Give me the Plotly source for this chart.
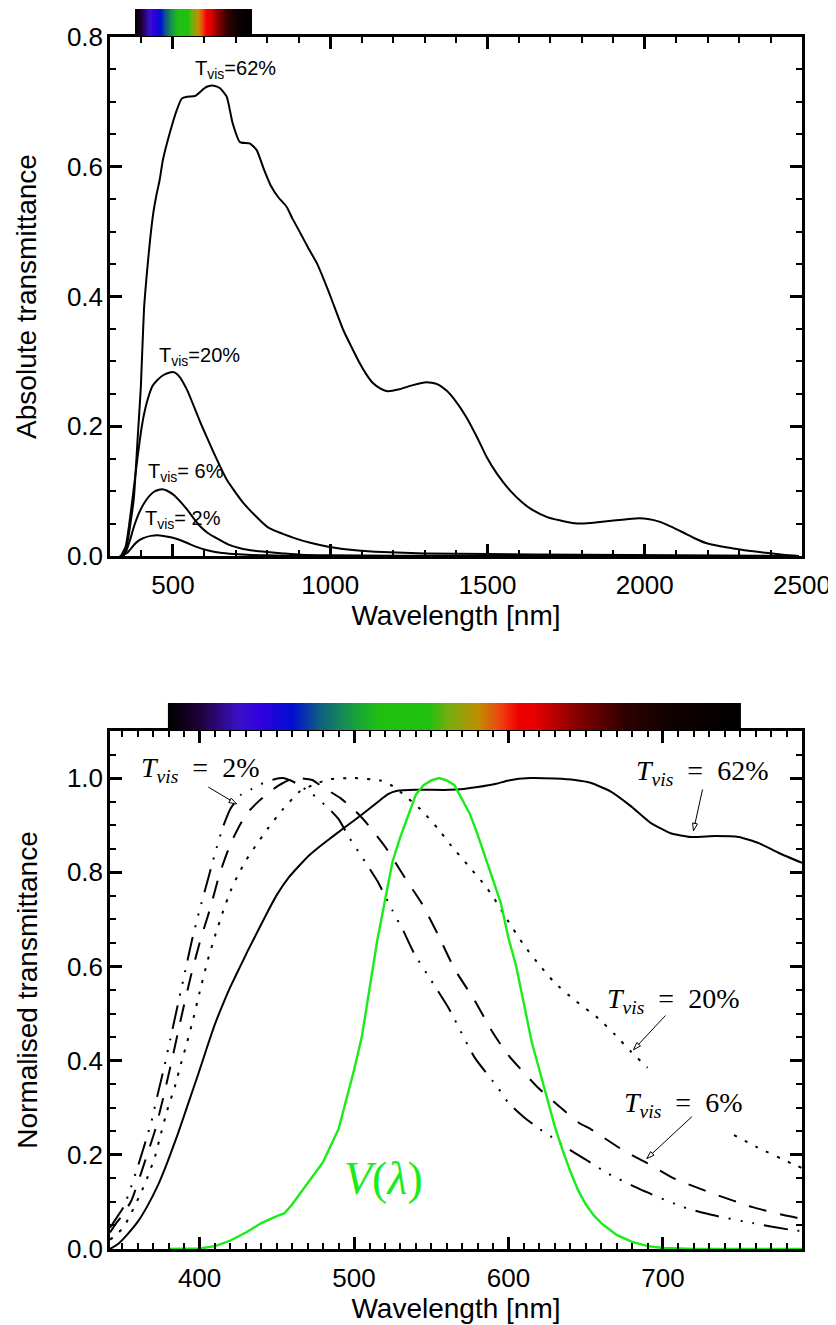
import numpy as np
import plotly.graph_objects as go

# ---------------- top panel: absolute transmittance ----------------
top_wl_62 = [330, 343, 355, 365, 376, 389, 398, 408, 418, 428, 438, 447, 458, 468, 490, 512, 528, 545, 570, 586,
             600, 612, 630, 650, 671, 690, 713, 744, 766, 790, 810, 835, 862, 880, 905, 930, 958, 985, 1005, 1042,
             1070, 1094, 1115, 1135, 1160, 1183, 1220, 1260, 1306, 1340, 1370, 1400, 1433, 1470, 1497, 1530, 1570,
             1610, 1643, 1690, 1729, 1770, 1802, 1850, 1909, 1950, 1983, 2010, 2046, 2080, 2119, 2160, 2195, 2240,
             2278, 2330, 2385, 2440, 2490]
top_T62 = [0.0, 0.0, 0.02, 0.05, 0.09, 0.19, 0.26, 0.38, 0.44, 0.49, 0.53, 0.555, 0.58, 0.61, 0.652, 0.687, 0.705,
           0.708, 0.709, 0.715, 0.721, 0.724, 0.725, 0.721, 0.708, 0.667, 0.638, 0.636, 0.626, 0.595, 0.572, 0.553,
           0.538, 0.52, 0.498, 0.475, 0.451, 0.42, 0.395, 0.348, 0.32, 0.297, 0.28, 0.267, 0.258, 0.254, 0.257,
           0.263, 0.268, 0.265, 0.255, 0.238, 0.214, 0.18, 0.153, 0.127, 0.102, 0.083, 0.071, 0.06, 0.055, 0.051,
           0.05, 0.052, 0.055, 0.057, 0.058, 0.057, 0.053, 0.046, 0.037, 0.027, 0.02, 0.015, 0.012, 0.008, 0.005,
           0.002, 0.0]

top_wl_20 = [335, 350, 360, 368, 376, 387, 398, 408, 419, 435, 450, 470, 490, 505, 520, 545, 588, 630, 672, 725,
             800, 884, 940, 998, 1080, 1167, 1300, 1500, 1800, 2100, 2490]
top_T20 = [0.0, 0.015, 0.045, 0.075, 0.106, 0.15, 0.19, 0.218, 0.24, 0.262, 0.271, 0.279, 0.283, 0.283, 0.277,
           0.256, 0.205, 0.159, 0.117, 0.081, 0.045, 0.028, 0.02, 0.014, 0.009, 0.006, 0.004, 0.003, 0.002, 0.001,
           0.0]

top_wl_6 = [335, 350, 362, 376, 392, 408, 424, 440, 455, 466, 480, 503, 525, 546, 566, 588, 612, 640, 675, 714,
            760, 800, 850, 906, 1000, 1200, 1500, 2490]
top_T6 = [0.0, 0.006, 0.022, 0.045, 0.066, 0.081, 0.092, 0.099, 0.102, 0.103, 0.101, 0.094, 0.083, 0.071, 0.058,
          0.045, 0.035, 0.027, 0.018, 0.012, 0.008, 0.006, 0.004, 0.002, 0.001, 0.0005, 0.0, 0.0]

top_wl_2 = [335, 355, 376, 392, 408, 430, 451, 470, 493, 520, 546, 575, 609, 650, 694, 750, 800, 900, 2490]
top_T2 = [0.0, 0.005, 0.017, 0.024, 0.028, 0.031, 0.032, 0.031, 0.029, 0.025, 0.02, 0.014, 0.009, 0.005, 0.003,
          0.0015, 0.001, 0.0, 0.0]

top_labels = ["T<sub>vis</sub>=62%", "T<sub>vis</sub>=20%", "T<sub>vis</sub>= 6%", "T<sub>vis</sub>= 2%"]
top_label_x = [700, 586, 542, 532]
top_label_y = [0.75, 0.308, 0.128, 0.0555]

# ---------------- bottom panel: normalised transmittance ----------------
b_wl_62 = [342, 347, 353, 360, 366, 373, 379, 386, 392, 399, 405, 410, 416, 420, 426, 431, 440, 445, 450, 458,
           470, 476, 483, 493, 500, 508, 518, 522, 528, 540, 562, 571, 580, 592, 600, 614, 630, 643, 653, 666,
           679, 692, 705, 718, 734, 749, 762, 775, 790]
b_T62 = [0.0, 0.01, 0.03, 0.058, 0.09, 0.135, 0.183, 0.245, 0.303, 0.37, 0.43, 0.478, 0.527, 0.557, 0.598,
         0.632, 0.69, 0.722, 0.752, 0.79, 0.833, 0.85, 0.868, 0.893, 0.91, 0.93, 0.956, 0.966, 0.973, 0.975,
         0.975, 0.977, 0.981, 0.988, 0.995, 1.0, 0.999, 0.996, 0.99, 0.972, 0.941, 0.905, 0.883, 0.875, 0.877,
         0.875, 0.862, 0.841, 0.82]

b_wl_20 = [342, 346, 351, 356, 362, 366, 371, 375, 379, 384, 388, 392, 396, 400, 405, 410, 415, 420, 425, 430,
           436, 444, 454, 465, 476, 485, 500, 517, 525, 531, 543, 554, 563, 574, 585, 590, 600, 610, 620, 630,
           643, 658, 669, 679, 690, 700, 746, 761, 783, 790]
b_T20 = [0.02, 0.03, 0.047, 0.078, 0.119, 0.15, 0.195, 0.245, 0.294, 0.345, 0.394, 0.44, 0.49, 0.545, 0.61,
         0.665, 0.715, 0.76, 0.795, 0.825, 0.855, 0.892, 0.934, 0.972, 0.989, 0.998, 1.0, 0.995, 0.983, 0.968,
         0.934, 0.894, 0.856, 0.814, 0.771, 0.748, 0.695, 0.645, 0.603, 0.565, 0.528, 0.49, 0.455, 0.42, 0.385,
         None, 0.242, 0.216, 0.182, 0.172]

b_wl_6 = [342, 346, 351, 356, 361, 366, 371, 376, 382, 388, 394, 400, 407, 413, 420, 426, 432, 438, 445, 451,
          458, 464, 473, 480, 491, 500, 508, 521, 533, 544, 554, 565, 578, 589, 599, 619, 636, 646, 653, 674,
          690, 707, 733, 758, 778, 790]
b_T6 = [0.035, 0.055, 0.075, 0.104, 0.15, 0.2, 0.25, 0.315, 0.4, 0.49, 0.575, 0.65, 0.725, 0.797, 0.86, 0.9,
        0.93, 0.95, 0.97, 0.984, 0.996, 1.0, 0.996, 0.98, 0.958, 0.933, 0.905, 0.85, 0.788, 0.733, 0.67, 0.595,
        0.528, 0.464, 0.415, 0.343, 0.294, 0.267, 0.255, 0.21, 0.182, 0.15, 0.117, 0.089, 0.072, 0.064]

b_wl_2 = [342, 346, 351, 356, 360, 365, 369, 373, 377, 381, 385, 390, 395, 400, 405, 410, 415, 420, 427, 434,
          441, 448, 454, 462, 473, 484, 490, 497, 506, 515, 525, 532, 539, 550, 561, 578, 593, 600, 610, 620,
          627, 635, 650, 664, 685, 713, 732, 758, 784, 790]
b_T2 = [0.045, 0.065, 0.09, 0.135, 0.175, 0.228, 0.273, 0.33, 0.385, 0.445, 0.505, 0.58, 0.655, 0.72, 0.78,
        0.84, 0.895, 0.935, 0.965, 0.977, 0.989, 0.997, 1.0, 0.99, 0.966, 0.934, 0.913, 0.873, 0.828, 0.782,
        0.718, 0.675, 0.627, 0.57, 0.513, 0.407, 0.343, 0.31, 0.28, 0.255, 0.24, 0.22, 0.19, 0.161, 0.127,
        0.089, 0.072, 0.055, 0.04, 0.038]

# photopic luminosity function V(lambda)
v_wl = [380, 390, 400, 410, 420, 430, 440, 450, 455, 460, 470, 480, 490, 500, 505, 510, 515, 520, 525, 530,
        535, 540, 545, 550, 555, 560, 565, 570, 575, 580, 585, 590, 595, 600, 605, 610, 615, 620, 625, 630,
        635, 640, 645, 650, 655, 660, 670, 680, 690, 700, 710, 720, 790]
v_V = [0, 0, 0.001, 0.006, 0.018, 0.035, 0.055, 0.07, 0.076, 0.095, 0.14, 0.185, 0.255, 0.38, 0.45, 0.55, 0.655,
       0.74, 0.824, 0.875, 0.92, 0.965, 0.985, 0.995, 1.0, 0.995, 0.985, 0.955, 0.924, 0.88, 0.83, 0.785, 0.735,
       0.66, 0.6, 0.52, 0.44, 0.38, 0.32, 0.26, 0.21, 0.165, 0.125, 0.095, 0.072, 0.055, 0.03, 0.015, 0.006,
       0.002, 0.001, 0, 0]

bot_pct = ["2%", "62%", "20%", "6%"]
bot_label_x = [400.0, 725.1, 706.6, 713.1]
bot_label_y = [1.019, 1.011, 0.527, 0.307]
arrow_head_x = [424.0, 719.7, 680.9, 689.5]
arrow_head_y = [0.945, 0.888, 0.423, 0.192]
arrow_tail_x = [404.6, 725.8, 702.5, 719.7]
arrow_tail_y = [0.983, 0.979, 0.499, 0.284]
arrow_angle = [118.7, 192.2, 222.9, 227.1]

# visible-spectrum colour bar
spec_nm = [380, 400, 425, 440, 460, 478, 500, 516, 548, 560, 580, 595, 606, 617, 632, 646, 675, 705, 750]
spec_col = ["#000000", "#200038", "#3a10c8", "#3000e0", "#0010d0", "#106080", "#18a040", "#20c010", "#20c010",
            "#70b010", "#c09000", "#f04010", "#f00000", "#e80000", "#b00000", "#800000", "#300000", "#100000",
            "#000000"]

# ---------------- figure ----------------
# the page body keeps an 8 px margin, so the figure is drawn 8 px in from the window corner
OFF = 8
FW, FH = 836 - OFF, 1325 - OFF
SANS = "Liberation Sans, Arial, Helvetica, sans-serif"
SERIF = "Liberation Serif, Times New Roman, serif"
GREEN = "#19ec19"


def xd(a, b):
    return [(a - OFF) / FW, (b - OFF) / FW]


def yd(top, bottom):
    return [1 - (bottom - OFF) / FH, 1 - (top - OFF) / FH]


fig = go.Figure()

spec_grid = np.arange(spec_nm[0], spec_nm[-1] + 1, 1)
cscale = [[(n - spec_nm[0]) / (spec_nm[-1] - spec_nm[0]), c] for n, c in zip(spec_nm, spec_col)]
for xa, ya in (("x3", "y3"), ("x4", "y4")):
    fig.add_trace(go.Heatmap(x=spec_grid, y=[0], z=[spec_grid], colorscale=cscale, zmin=spec_nm[0],
                             zmax=spec_nm[-1], showscale=False, hoverinfo="skip", xaxis=xa, yaxis=ya,
                             zsmooth="best"))

for wl, T in ((top_wl_62, top_T62), (top_wl_20, top_T20), (top_wl_6, top_T6), (top_wl_2, top_T2)):
    fig.add_trace(go.Scatter(x=wl, y=T, mode="lines", line=dict(color="black", width=2, shape="spline",
                                                                 smoothing=0.5),
                             xaxis="x", yaxis="y", showlegend=False, hoverinfo="skip"))

bottom_series = [
    (b_wl_62, b_T62, "solid"),
    (b_wl_20, b_T20, "3px,9px"),
    (b_wl_6, b_T6, "18px,14px"),
    (b_wl_2, b_T2, "24px,10px,2px,10px,2px,10px,2px,10px"),
]
for wl, T, dash in bottom_series:
    fig.add_trace(go.Scatter(x=wl, y=T, mode="lines",
                             line=dict(color="black", width=2, dash=dash, shape="spline", smoothing=0.5),
                             xaxis="x2", yaxis="y2", showlegend=False, hoverinfo="skip", connectgaps=False))

fig.add_trace(go.Scatter(x=v_wl, y=v_V, mode="lines", line=dict(color=GREEN, width=2.4),
                         xaxis="x2", yaxis="y2", showlegend=False, hoverinfo="skip"))

# open arrow heads for the label pointers
fig.add_trace(go.Scatter(x=arrow_head_x, y=arrow_head_y, mode="markers", xaxis="x2", yaxis="y2",
                         marker=dict(symbol="arrow", size=8, color="white", angle=arrow_angle,
                                     line=dict(color="black", width=1)),
                         showlegend=False, hoverinfo="skip"))

annotations = []
for t, x, y in zip(top_labels, top_label_x, top_label_y):
    annotations.append(dict(text=t, x=x, y=y, xref="x", yref="y", showarrow=False,
                            font=dict(family=SANS, size=20, color="black")))
for p, x, y in zip(bot_pct, bot_label_x, bot_label_y):
    annotations.append(dict(text="<i>T</i><sub><i>vis</i></sub>&nbsp;&nbsp;= &nbsp;" + p, x=x, y=y,
                            xref="x2", yref="y2", showarrow=False,
                            font=dict(family=SERIF, size=28, color="black")))
for hx, hy, tx, ty in zip(arrow_head_x, arrow_head_y, arrow_tail_x, arrow_tail_y):
    annotations.append(dict(text="", x=hx, y=hy, ax=tx, ay=ty, xref="x2", yref="y2", axref="x2", ayref="y2",
                            showarrow=True, arrowhead=0, arrowwidth=1, arrowcolor="black", standoff=7))
annotations.append(dict(text="<i>V</i>(<i>λ</i>)", x=519, y=0.15, xref="x2", yref="y2", showarrow=False,
                        font=dict(family=SERIF, size=46, color=GREEN)))

axis_common = dict(showline=True, linecolor="black", linewidth=2.5, mirror="allticks", ticks="inside",
                   ticklen=12, tickwidth=2.5, tickcolor="black", showgrid=False, zeroline=False,
                   automargin=False,
                   tickfont=dict(family=SANS, size=26, color="black"),
                   title_font=dict(family=SANS, size=28, color="black"))
minor_common = dict(ticks="inside", ticklen=6, tickwidth=2, tickcolor="black", showgrid=False)

xdom = xd(110, 802)
fig.update_layout(
    width=FW, height=FH, margin=dict(l=0, r=0, t=0, b=0, autoexpand=False),
    paper_bgcolor="white", plot_bgcolor="white", showlegend=False,
    annotations=annotations,
    xaxis=dict(axis_common, domain=xdom, anchor="y", range=[300, 2500], tick0=0, dtick=500,
               minor=dict(minor_common, dtick=100), title=dict(text="Wavelength [nm]", standoff=6),
               ticklabelstandoff=4),
    yaxis=dict(axis_common, domain=yd(37, 556), anchor="x", range=[0, 0.8], tick0=0, dtick=0.2,
               tickformat=".1f", minor=dict(minor_common, dtick=0.05),
               title=dict(text="Absolute transmittance", standoff=23), ticklabelstandoff=-1),
    xaxis2=dict(axis_common, domain=xdom, anchor="y2", range=[342, 790], tick0=0, dtick=100,
                minor=dict(minor_common, dtick=10), title=dict(text="Wavelength [nm]", standoff=6),
                ticklabelstandoff=4),
    yaxis2=dict(axis_common, domain=yd(731, 1249), anchor="x2", range=[0, 1.1], tick0=0,
                dtick=0.2, tickformat=".1f", minor=dict(minor_common, dtick=0.05),
                title=dict(text="Normalised transmittance", standoff=22), ticklabelstandoff=-1),
    xaxis3=dict(domain=xdom, anchor="y3", range=[300, 2500], visible=False),
    yaxis3=dict(domain=yd(9, 36), anchor="x3", range=[-0.5, 0.5], visible=False),
    xaxis4=dict(domain=xdom, anchor="y4", range=[342, 790], visible=False),
    yaxis4=dict(domain=yd(703, 730), anchor="x4", range=[-0.5, 0.5], visible=False),
)

fig.write_html("out.html")
